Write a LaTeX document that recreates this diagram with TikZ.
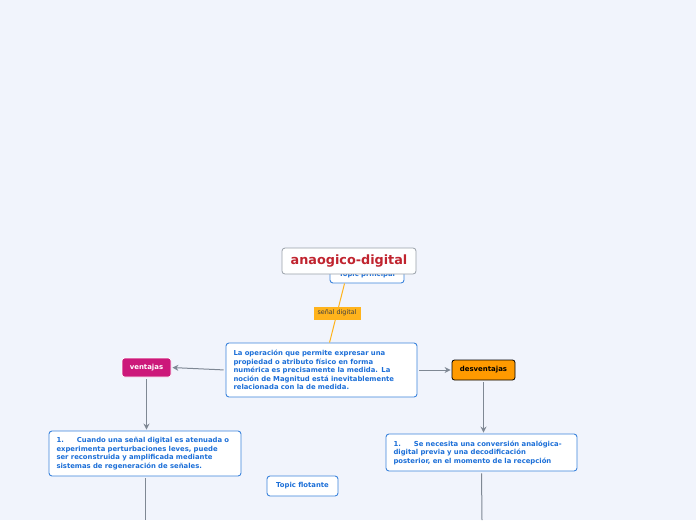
\documentclass[tikz,border=0pt]{standalone}
\usepackage{fontspec}
\setmainfont{DejaVu Sans}
\usepackage{tikz}
\usetikzlibrary{arrows.meta,positioning,calc}
\definecolor{MapBg}{HTML}{F1F4FC}
\definecolor{MapBlue}{HTML}{1C6FD8}
\definecolor{MapEdge}{HTML}{3C84DC}
\definecolor{MapGray}{HTML}{7F8894}
\definecolor{MapRed}{HTML}{C0242F}
\definecolor{MapPink}{HTML}{CC187A}
\definecolor{MapOrange}{HTML}{FF9A00}
\definecolor{MapGold}{HTML}{FFB31C}
\tikzset{
  topicbox/.style={draw=MapEdge,line width=0.9pt,rounded corners=3pt,fill=white,align=left,inner sep=0pt,text=MapBlue,font=\fontsize{6.85}{8.5}\selectfont\bfseries},
  titlebox/.style={draw=MapGray!80,line width=0.8pt,rounded corners=3pt,fill=white!96!MapBg,inner sep=0pt,text=MapRed,font=\fontsize{12.8}{14}\selectfont\bfseries},
  tagbox/.style={rounded corners=2.5pt,inner sep=0pt,font=\fontsize{6.95}{8}\selectfont\bfseries},
  relbox/.style={fill=MapGold,inner sep=0pt,minimum width=47pt,minimum height=13pt,text=black!75,font=\fontsize{6.4}{7}\selectfont},
  grayarrow/.style={-{Stealth[length=6pt,width=6pt]},line width=1pt,draw=MapGray,shorten <=2pt,shorten >=1pt},
  grayline/.style={line width=1pt,draw=MapGray,shorten <=2pt},
  orangelink/.style={line width=1pt,draw=MapGold}
}
\begin{document}
\begin{tikzpicture}[x=1pt,y=-1pt]
\fill[MapBg] (0,0) rectangle (696,520);
\useasboundingbox (0,0) rectangle (696,520);
% central topic (partly hidden by the title)
\node[topicbox,align=center,minimum width=74pt,minimum height=25pt] (principal) at (367,270.5) {\raisebox{-5.5pt}[0pt][0pt]{Topic principal}};
\node[titlebox,minimum width=134pt,minimum height=26pt] (title) at (349,261) {anaogico-digital};
% main idea
\node[topicbox,minimum width=191pt,minimum height=54pt,text width=176pt] (main) at (321.5,370)
  {La operación que permite expresar una\\propiedad o atributo físico en forma\\numérica es precisamente la medida. La\\noción de Magnitud está inevitablemente\\relacionada con la de medida.};
\draw[orangelink] ([xshift=15pt]principal.south west) -- node[relbox] (signal) {señal digital} ([xshift=104pt]main.north west);
% branches
\node[tagbox,fill=MapPink,draw=white,line width=0.8pt,text=white,minimum width=49pt,minimum height=19pt] (ventajas) at (146.5,367.5) {ventajas};
\node[tagbox,fill=MapOrange,draw=black,line width=0.8pt,text=black,minimum width=63pt,minimum height=20pt] (desventajas) at (483.5,370) {desventajas};
\node[topicbox,minimum width=192pt,minimum height=45pt,text width=177pt] (pro1) at (145,453.5)
  {1.\hspace{13pt}Cuando una señal digital es atenuada o\\experimenta perturbaciones leves, puede\\ser reconstruida y amplificada mediante\\sistemas de regeneración de señales.};
\node[topicbox,minimum width=191pt,minimum height=37pt,text width=176pt] (contra1) at (481.5,452.5)
  {1.\hspace{13pt}Se necesita una conversión analógica-\\digital previa y una decodificación\\posterior, en el momento de la recepción};
\node[topicbox,align=center,minimum width=71pt,minimum height=20pt] (floating) at (302.5,486) {Topic flotante};
\coordinate (pro1end) at (145,520);
\coordinate (contra1end) at (482,520);
% connectors
\draw[grayarrow] (main.west) -- (ventajas.east);
\draw[grayarrow] (main.east) -- (desventajas.west);
\draw[grayarrow] (ventajas.south) -- (ventajas.south |- pro1.north);
\draw[grayarrow] (desventajas.south) -- (desventajas.south |- contra1.north);
\draw[grayline] (pro1.south) -- (pro1end);
\draw[grayline] (contra1.south) -- (contra1end);
\end{tikzpicture}
\end{document}
